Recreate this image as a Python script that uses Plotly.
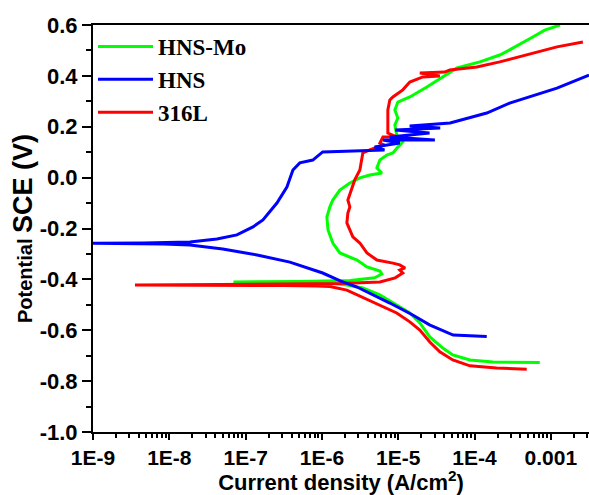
import plotly.graph_objects as go

# ---- data (log10 of current density in A/cm^2, potential in V vs SCE) ----
hnsmo_log_i = [-3.145, -3.76, -4.06, -4.285, -4.416, -4.586, -4.717, -4.848, -5.02, -5.241,
               -5.464, -5.673, -5.896, -6.29, -7.14,
               -7.14, -6.29, -5.63, -5.31, -5.215, -5.24, -5.41, -5.54, -5.765, -5.857,
               -5.92, -5.935, -5.896, -5.857, -5.765, -5.634, -5.503, -5.372, -5.215, -5.28,
               -5.24, -5.15, -5.07, -5.005, -4.94, -5.02, -5.044, -5.005, -5.044, -5.005,
               -4.848, -4.625, -4.416, -4.23, -3.93, -3.67, -3.54, -3.37, -3.237, -3.08, -2.88]
hnsmo_e = [-0.727, -0.725, -0.717, -0.697, -0.670, -0.626, -0.571, -0.532, -0.501, -0.461,
           -0.434, -0.422, -0.414, -0.412, -0.411,
           -0.410, -0.408, -0.404, -0.394, -0.379, -0.367, -0.351, -0.324, -0.296, -0.257,
           -0.206, -0.155, -0.115, -0.088, -0.049, -0.021, -0.001, 0.010, 0.018, 0.038,
           0.069, 0.089, 0.097, 0.120, 0.140, 0.168, 0.207, 0.234, 0.266, 0.297,
           0.317, 0.356, 0.396, 0.431, 0.455, 0.482, 0.502, 0.529, 0.553, 0.580, 0.600]

hns_log_i = [-3.84, -4.06, -4.28, -4.59, -4.81, -5.11, -5.54, -5.76, -5.99, -6.42,
             -6.85, -7.30, -7.73, -8.08, -9.1,
             -9.1, -8.345, -7.73, -7.376, -7.114, -6.904, -6.773, -6.59, -6.459, -6.38,
             -6.29, -6.12, -6.03, -5.99, -5.18, -5.31, -4.98, -5.20, -4.52, -5.11,
             -4.59, -5.04, -4.45, -4.85, -4.32, -3.93, -3.84, -3.54, -2.92, -2.50]
hns_e = [-0.625, -0.622, -0.619, -0.579, -0.540, -0.493, -0.430, -0.406, -0.375, -0.332,
         -0.304, -0.281, -0.265, -0.261, -0.259,
         -0.258, -0.257, -0.253, -0.241, -0.225, -0.194, -0.166, -0.100, -0.037, 0.030,
         0.058, 0.069, 0.089, 0.101, 0.109, 0.120, 0.136, 0.148, 0.148, 0.160,
         0.175, 0.187, 0.195, 0.203, 0.215, 0.246, 0.254, 0.293, 0.352, 0.403]

l316_log_i = [-3.316, -3.71, -4.06, -4.285, -4.455, -4.586, -4.717, -4.848, -5.02, -5.241,
              -5.464, -5.673, -5.896, -6.066, -6.51, -7.60, -8.45,
              -8.45, -7.34, -6.33, -5.765, -5.24, -5.04, -4.94, -4.98, -4.91, -4.98,
              -5.07, -5.28, -5.41, -5.503, -5.595, -5.673, -5.66, -5.634, -5.66, -5.608,
              -5.57, -5.503, -5.477, -5.464, -5.372, -5.28, -5.18, -5.24, -5.20, -5.02,
              -5.136, -5.136, -5.136, -5.11, -5.07, -4.94, -4.848, -4.678, -4.455, -4.717,
              -4.39, -4.324, -3.97, -3.67, -3.316, -2.92, -2.58]
l316_e = [-0.753, -0.748, -0.740, -0.717, -0.685, -0.646, -0.599, -0.567, -0.532, -0.501,
          -0.469, -0.442, -0.428, -0.426, -0.424, -0.423, -0.423,
          -0.422, -0.420, -0.418, -0.416, -0.410, -0.394, -0.375, -0.363, -0.355, -0.343,
          -0.336, -0.324, -0.296, -0.257, -0.233, -0.178, -0.139, -0.115, -0.088, -0.037,
          -0.009, 0.030, 0.069, 0.097, 0.109, 0.120, 0.128, 0.136, 0.160, 0.160,
          0.175, 0.199, 0.266, 0.305, 0.317, 0.345, 0.376, 0.396, 0.400, 0.411,
          0.415, 0.423, 0.435, 0.455, 0.482, 0.514, 0.533]

series_names = ["HNS-Mo", "HNS", "316L"]
series_colors = ["#00ff00", "#0000ff", "#ff0000"]

x_tickvals = [1e-9, 1e-8, 1e-7, 1e-6, 1e-5, 1e-4, 1e-3]
x_ticktext = ["1E-9", "1E-8", "1E-7", "1E-6", "1E-5", "1E-4", "0.001"]
y_tickvals = [-1.0, -0.8, -0.6, -0.4, -0.2, 0.0, 0.2, 0.4, 0.6]
y_ticktext = ["-1.0", "-0.8", "-0.6", "-0.4", "-0.2", "0.0", "0.2", "0.4", "0.6"]

fig = go.Figure()

def add(log_i, e, idx, rank):
    fig.add_trace(go.Scatter(
        x=[10 ** v for v in log_i], y=e, mode="lines",
        name=series_names[idx], legendrank=rank,
        line=dict(color=series_colors[idx], width=3),
    ))

add(hnsmo_log_i, hnsmo_e, 0, 1)
add(l316_log_i, l316_e, 2, 3)
add(hns_log_i, hns_e, 1, 2)

axis_font = dict(family="Liberation Sans, Arial", size=22, color="black", weight="bold")

fig.update_layout(
    width=589, height=495,
    margin=dict(l=93, r=0, t=25, b=63),
    paper_bgcolor="white", plot_bgcolor="white",
    showlegend=True,
    legend=dict(x=0.0, y=1.0, xanchor="left", yanchor="top",
                bgcolor="rgba(0,0,0,0)", itemwidth=55,
                font=dict(family="Liberation Serif, Times New Roman", size=23,
                          color="black", weight="bold"),
                tracegroupgap=0),
    xaxis=dict(
        type="log", range=[-9, -2.5],
        tickmode="array", tickvals=x_tickvals, ticktext=x_ticktext,
        ticks="outside", ticklen=6, tickwidth=2, tickcolor="black",
        showline=True, linecolor="black", linewidth=2, mirror=True,
        showgrid=False, zeroline=False,
        tickfont=dict(family="Liberation Sans, Arial", size=21, color="black", weight="bold"),
        minor=dict(ticks="outside", ticklen=4, tickwidth=1.5, tickcolor="black",
                   tickmode="linear", dtick="D1", showgrid=False),
        title=dict(text="Current density (A/cm<sup>2</sup>)",
                   font=axis_font, standoff=3),
    ),
    yaxis=dict(
        range=[-1.0, 0.6],
        tickmode="array", tickvals=y_tickvals, ticktext=y_ticktext,
        ticks="outside", ticklen=9, tickwidth=2, tickcolor="black",
        showline=True, linecolor="black", linewidth=2, mirror=False,
        showgrid=False, zeroline=False,
        tickfont=axis_font,
        minor=dict(ticks="outside", ticklen=5, tickwidth=1.5, tickcolor="black",
                   tickmode="linear", tick0=-1.0, dtick=0.1, showgrid=False),
        title=dict(text="Potential <span style='font-size:27px'>SCE (V)</span>",
                   font=dict(family="Liberation Sans, Arial", size=20, color="black",
                             weight="bold"), standoff=2),
    ),
)

fig.write_html("out.html")
